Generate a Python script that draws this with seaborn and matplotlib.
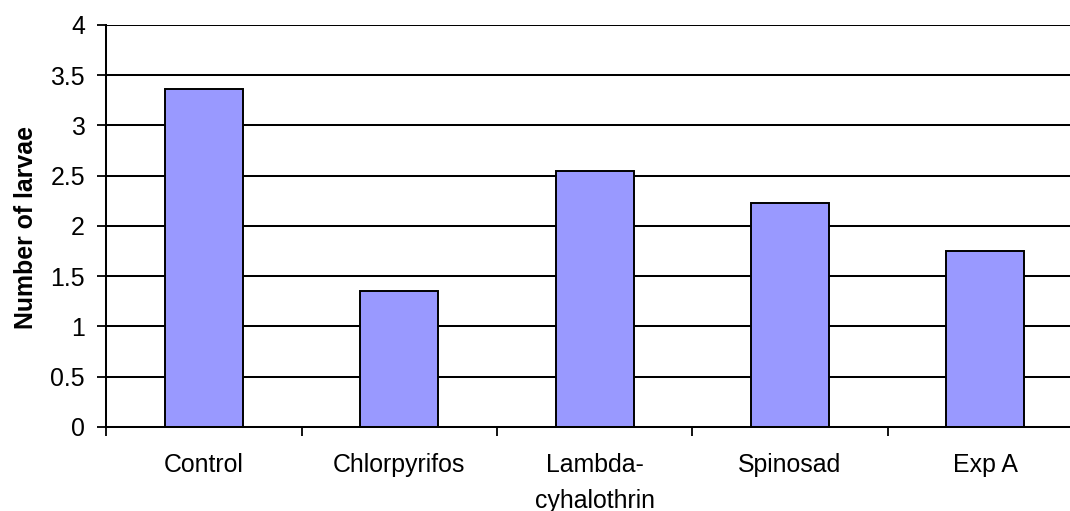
import matplotlib
matplotlib.use("Agg")
import matplotlib.pyplot as plt
import seaborn as sns
import pandas as pd
from matplotlib.ticker import FixedLocator

# Mean number of larvae per treatment
treatments = ["Control", "Chlorpyrifos", "Lambda-\ncyhalothrin", "Spinosad", "Exp A"]
larvae = [3.36, 1.35, 2.55, 2.23, 1.75]
y_ticks = [0, 0.5, 1, 1.5, 2, 2.5, 3, 3.5, 4]
y_tick_labels = ["0", "0.5", "1", "1.5", "2", "2.5", "3", "3.5", "4"]

sns.set_style("white")
plt.rcParams["font.family"] = ["Liberation Sans", "DejaVu Sans"]

df = pd.DataFrame({"treatment": treatments, "larvae": larvae})

fig = plt.figure(figsize=(10.7, 5.11), dpi=100)
ax = fig.add_axes([0.0995, 0.1644, 0.9126, 0.7867])

sns.barplot(data=df, x="treatment", y="larvae", order=treatments,
            color="#9999FF", saturation=1, width=0.4,
            edgecolor="black", linewidth=1.4, ax=ax, zorder=3)

ax.set_xlim(-0.5, len(treatments) - 0.5)
ax.set_ylim(0, 4)

# horizontal gridlines in black
ax.set_yticks(y_ticks)
ax.set_yticklabels(y_tick_labels)
ax.yaxis.grid(True, color="black", linewidth=1.45, zorder=0)
ax.xaxis.grid(False)
ax.set_axisbelow(True)

# spines
for side in ["top", "right"]:
    ax.spines[side].set_visible(False)
for side in ["left", "bottom"]:
    ax.spines[side].set_color("black")
    ax.spines[side].set_linewidth(1.45)
    ax.spines[side].set_zorder(4)

# y ticks pointing out
ax.tick_params(axis="y", which="major", direction="out", length=6.5, width=1.3,
               color="black", labelsize=17.9, labelcolor="black", pad=9, left=True)

# x: labels at category centres, tick marks at category boundaries
ax.xaxis.set_minor_locator(FixedLocator([i - 0.5 for i in range(len(treatments) + 1)]))
ax.tick_params(axis="x", which="minor", direction="out", length=6.5, width=1.3,
               color="black", bottom=True)
ax.tick_params(axis="x", which="major", length=0, labelsize=17.9,
               labelcolor="black", pad=19)
for lbl in ax.get_xticklabels():
    lbl.set_linespacing(1.6)

ax.set_xlabel("")
ax.set_ylabel("Number of larvae", fontsize=17.9, fontweight="bold", color="black")
ax.yaxis.set_label_coords(-0.0825, 0.495)
ax.yaxis.label.set_va("center")

fig.savefig("out.png", dpi=100, facecolor="white")
